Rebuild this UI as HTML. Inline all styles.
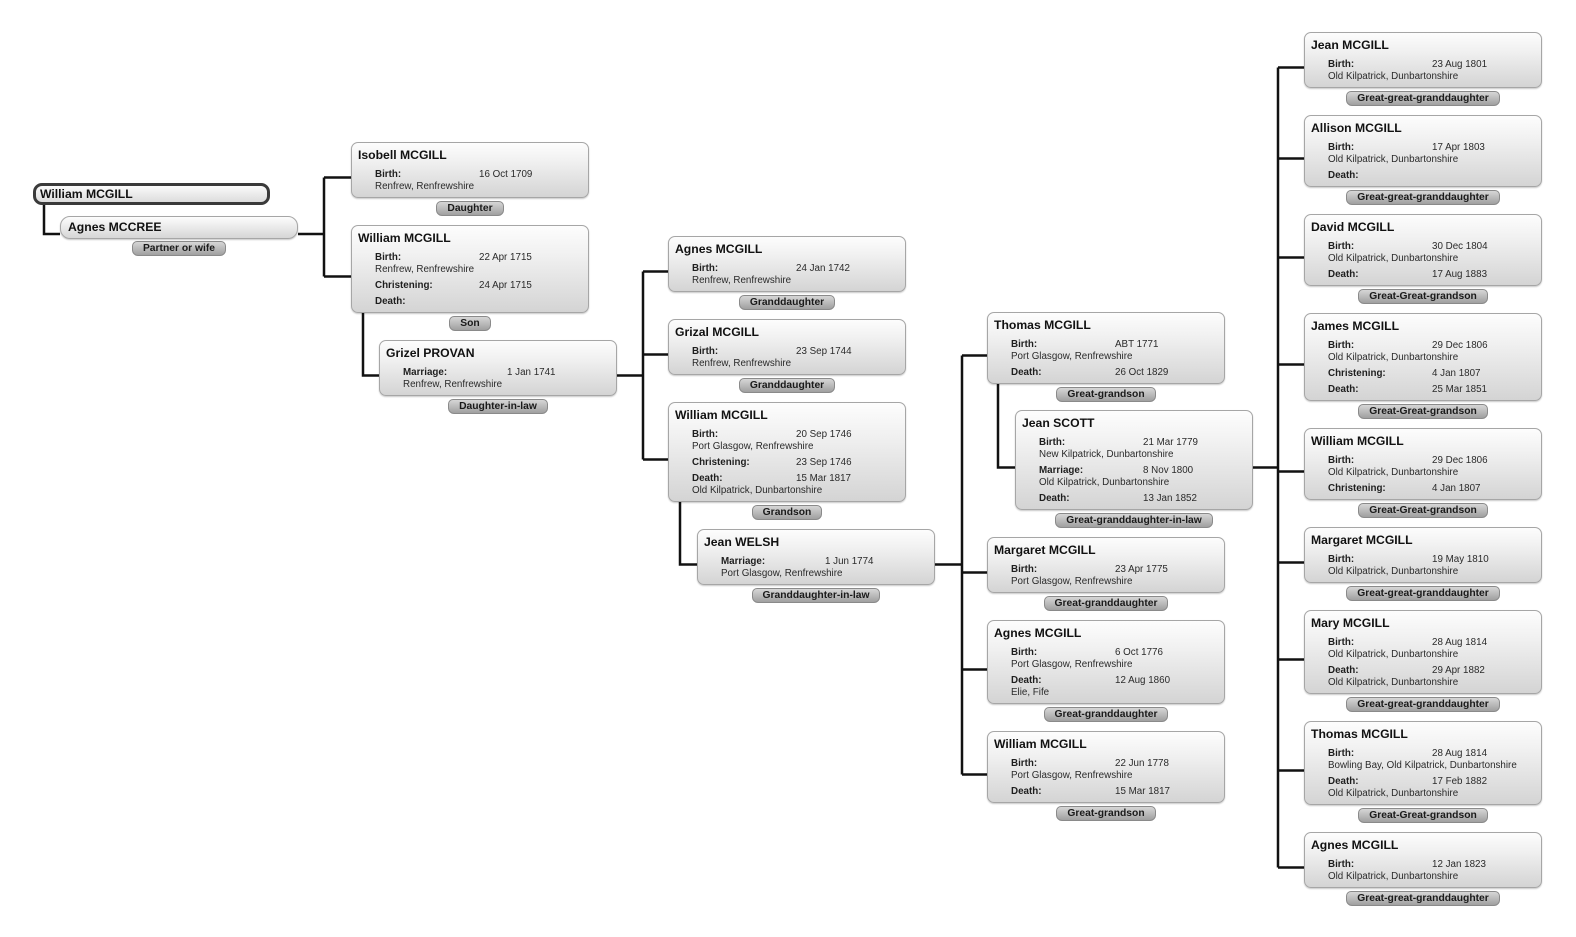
<!DOCTYPE html>
<html>
<head>
<meta charset="utf-8">
<style>
html,body{margin:0;padding:0;background:#fff;}
body{width:1576px;height:937px;position:relative;overflow:hidden;font-family:"Liberation Sans",Arial,sans-serif;}
svg.c{position:absolute;left:0;top:0;z-index:0}
.b{position:absolute;width:238px;box-sizing:border-box;border:1px solid #a6a6a6;border-radius:7px;background:linear-gradient(#fdfdfd 0%,#f0f0f0 35%,#d4d4d4 100%);padding-top:4px;z-index:3;box-shadow:0 1px 1.5px rgba(0,0,0,.22);}
.n{font-weight:bold;font-size:12.2px;line-height:16px;height:16px;padding-left:6px;color:#111;white-space:nowrap;}
.r{position:relative;font-size:9.8px;line-height:12px;height:12px;padding-left:23px;margin-top:4px;color:#1e1e1e;font-weight:bold;white-space:nowrap;}
.n + .r{margin-top:6px;}
.r span{position:absolute;left:127px;top:0;font-weight:normal;color:#2a2a2a;}
.p{font-size:9.8px;line-height:12px;height:12px;padding-left:23px;color:#2a2a2a;white-space:nowrap;}
.t{position:absolute;width:238px;text-align:center;z-index:2;}
.t span{display:inline-block;box-sizing:border-box;height:15px;padding:0 10px;font-weight:bold;font-size:10.3px;line-height:14px;color:#1a1a1a;background:linear-gradient(#d6d6d6,#a0a0a0);border:1px solid #8a8a8a;border-radius:5px 5px 6px 6px;white-space:nowrap;}
.root{position:absolute;left:33px;top:183px;width:237px;height:22px;box-sizing:border-box;border:3px solid #3a3a3a;border-radius:9px;background:linear-gradient(#fbfbfb,#dcdcdc);z-index:3;font-weight:bold;font-size:12.2px;line-height:16px;padding-left:4px;color:#111;}
.sp0{position:absolute;left:60px;top:216px;width:238px;height:23px;box-sizing:border-box;border:1px solid #a6a6a6;border-radius:10px;background:linear-gradient(#fdfdfd,#d6d6d6);z-index:3;font-weight:bold;font-size:12.2px;line-height:21px;padding-left:7px;color:#111;box-shadow:0 1px 1.5px rgba(0,0,0,.22);}
</style>
</head>
<body>
<svg class="c" width="1576" height="937" viewBox="0 0 1576 937">
<g fill="none" stroke="#111" stroke-width="2.5" stroke-linejoin="miter">
<path d="M44 204 V234 H60"/>
<path d="M298 234 H324"/>
<path d="M324 177.5 V276.5"/>
<path d="M324 177.5 H351 M324 276.5 H351"/>
<path d="M363 313 V375.5 H379"/>
<path d="M617 375.5 H643"/>
<path d="M643 271.5 V459.5"/>
<path d="M643 271.5 H668 M643 354.5 H668 M643 459.5 H668"/>
<path d="M680 502 V564.5 H697"/>
<path d="M935 564.5 H962"/>
<path d="M962 355.5 V774.5"/>
<path d="M962 355.5 H987 M962 572.5 H987 M962 669.5 H987 M962 774.5 H987"/>
<path d="M998 384 V467.5 H1015"/>
<path d="M1253 467.5 H1278"/>
<path d="M1278 67.5 V867.5"/>
<path d="M1278 67.5 H1304 M1278 158.5 H1304 M1278 257.5 H1304 M1278 364.5 H1304 M1278 471.5 H1304 M1278 562.5 H1304 M1278 659.5 H1304 M1278 770.5 H1304 M1278 867.5 H1304"/>
</g>
</svg>

<!-- Root -->
<div class="root">William MCGILL</div>
<div class="sp0">Agnes MCCREE</div>
<div class="t" style="left:60px;top:238px"><span>Partner or wife</span></div>

<!-- Column 1 -->
<div class="b" style="left:351px;top:142px;height:56px"><div class="n">Isobell MCGILL</div><div class="r">Birth:<span>16 Oct 1709</span></div><div class="p">Renfrew, Renfrewshire</div></div>
<div class="t" style="left:351px;top:198px"><span>Daughter</span></div>

<div class="b" style="left:351px;top:225px;height:88px"><div class="n">William MCGILL</div><div class="r">Birth:<span>22 Apr 1715</span></div><div class="p">Renfrew, Renfrewshire</div><div class="r">Christening:<span>24 Apr 1715</span></div><div class="r">Death:</div></div>
<div class="t" style="left:351px;top:313px"><span>Son</span></div>

<div class="b" style="left:379px;top:340px;height:56px"><div class="n">Grizel PROVAN</div><div class="r">Marriage:<span>1 Jan 1741</span></div><div class="p">Renfrew, Renfrewshire</div></div>
<div class="t" style="left:379px;top:396px"><span>Daughter-in-law</span></div>

<!-- Column 2 -->
<div class="b" style="left:668px;top:236px;height:56px"><div class="n">Agnes MCGILL</div><div class="r">Birth:<span>24 Jan 1742</span></div><div class="p">Renfrew, Renfrewshire</div></div>
<div class="t" style="left:668px;top:292px"><span>Granddaughter</span></div>

<div class="b" style="left:668px;top:319px;height:56px"><div class="n">Grizal MCGILL</div><div class="r">Birth:<span>23 Sep 1744</span></div><div class="p">Renfrew, Renfrewshire</div></div>
<div class="t" style="left:668px;top:375px"><span>Granddaughter</span></div>

<div class="b" style="left:668px;top:402px;height:100px"><div class="n">William MCGILL</div><div class="r">Birth:<span>20 Sep 1746</span></div><div class="p">Port Glasgow, Renfrewshire</div><div class="r">Christening:<span>23 Sep 1746</span></div><div class="r">Death:<span>15 Mar 1817</span></div><div class="p">Old Kilpatrick, Dunbartonshire</div></div>
<div class="t" style="left:668px;top:502px"><span>Grandson</span></div>

<div class="b" style="left:697px;top:529px;height:56px"><div class="n">Jean WELSH</div><div class="r">Marriage:<span>1 Jun 1774</span></div><div class="p">Port Glasgow, Renfrewshire</div></div>
<div class="t" style="left:697px;top:585px"><span>Granddaughter-in-law</span></div>

<!-- Column 3 -->
<div class="b" style="left:987px;top:312px;height:72px"><div class="n">Thomas MCGILL</div><div class="r">Birth:<span>ABT 1771</span></div><div class="p">Port Glasgow, Renfrewshire</div><div class="r">Death:<span>26 Oct 1829</span></div></div>
<div class="t" style="left:987px;top:384px"><span>Great-grandson</span></div>

<div class="b" style="left:1015px;top:410px;height:100px"><div class="n">Jean SCOTT</div><div class="r">Birth:<span>21 Mar 1779</span></div><div class="p">New Kilpatrick, Dunbartonshire</div><div class="r">Marriage:<span>8 Nov 1800</span></div><div class="p">Old Kilpatrick, Dunbartonshire</div><div class="r">Death:<span>13 Jan 1852</span></div></div>
<div class="t" style="left:1015px;top:510px"><span>Great-granddaughter-in-law</span></div>

<div class="b" style="left:987px;top:537px;height:56px"><div class="n">Margaret MCGILL</div><div class="r">Birth:<span>23 Apr 1775</span></div><div class="p">Port Glasgow, Renfrewshire</div></div>
<div class="t" style="left:987px;top:593px"><span>Great-granddaughter</span></div>

<div class="b" style="left:987px;top:620px;height:84px"><div class="n">Agnes MCGILL</div><div class="r">Birth:<span>6 Oct 1776</span></div><div class="p">Port Glasgow, Renfrewshire</div><div class="r">Death:<span>12 Aug 1860</span></div><div class="p">Elie, Fife</div></div>
<div class="t" style="left:987px;top:704px"><span>Great-granddaughter</span></div>

<div class="b" style="left:987px;top:731px;height:72px"><div class="n">William MCGILL</div><div class="r">Birth:<span>22 Jun 1778</span></div><div class="p">Port Glasgow, Renfrewshire</div><div class="r">Death:<span>15 Mar 1817</span></div></div>
<div class="t" style="left:987px;top:803px"><span>Great-grandson</span></div>

<!-- Column 4 -->
<div class="b" style="left:1304px;top:32px;height:56px"><div class="n">Jean MCGILL</div><div class="r">Birth:<span>23 Aug 1801</span></div><div class="p">Old Kilpatrick, Dunbartonshire</div></div>
<div class="t" style="left:1304px;top:88px"><span>Great-great-granddaughter</span></div>

<div class="b" style="left:1304px;top:115px;height:72px"><div class="n">Allison MCGILL</div><div class="r">Birth:<span>17 Apr 1803</span></div><div class="p">Old Kilpatrick, Dunbartonshire</div><div class="r">Death:</div></div>
<div class="t" style="left:1304px;top:187px"><span>Great-great-granddaughter</span></div>

<div class="b" style="left:1304px;top:214px;height:72px"><div class="n">David MCGILL</div><div class="r">Birth:<span>30 Dec 1804</span></div><div class="p">Old Kilpatrick, Dunbartonshire</div><div class="r">Death:<span>17 Aug 1883</span></div></div>
<div class="t" style="left:1304px;top:286px"><span>Great-Great-grandson</span></div>

<div class="b" style="left:1304px;top:313px;height:88px"><div class="n">James MCGILL</div><div class="r">Birth:<span>29 Dec 1806</span></div><div class="p">Old Kilpatrick, Dunbartonshire</div><div class="r">Christening:<span>4 Jan 1807</span></div><div class="r">Death:<span>25 Mar 1851</span></div></div>
<div class="t" style="left:1304px;top:401px"><span>Great-Great-grandson</span></div>

<div class="b" style="left:1304px;top:428px;height:72px"><div class="n">William MCGILL</div><div class="r">Birth:<span>29 Dec 1806</span></div><div class="p">Old Kilpatrick, Dunbartonshire</div><div class="r">Christening:<span>4 Jan 1807</span></div></div>
<div class="t" style="left:1304px;top:500px"><span>Great-Great-grandson</span></div>

<div class="b" style="left:1304px;top:527px;height:56px"><div class="n">Margaret MCGILL</div><div class="r">Birth:<span>19 May 1810</span></div><div class="p">Old Kilpatrick, Dunbartonshire</div></div>
<div class="t" style="left:1304px;top:583px"><span>Great-great-granddaughter</span></div>

<div class="b" style="left:1304px;top:610px;height:84px"><div class="n">Mary MCGILL</div><div class="r">Birth:<span>28 Aug 1814</span></div><div class="p">Old Kilpatrick, Dunbartonshire</div><div class="r">Death:<span>29 Apr 1882</span></div><div class="p">Old Kilpatrick, Dunbartonshire</div></div>
<div class="t" style="left:1304px;top:694px"><span>Great-great-granddaughter</span></div>

<div class="b" style="left:1304px;top:721px;height:84px"><div class="n">Thomas MCGILL</div><div class="r">Birth:<span>28 Aug 1814</span></div><div class="p">Bowling Bay, Old Kilpatrick, Dunbartonshire</div><div class="r">Death:<span>17 Feb 1882</span></div><div class="p">Old Kilpatrick, Dunbartonshire</div></div>
<div class="t" style="left:1304px;top:805px"><span>Great-Great-grandson</span></div>

<div class="b" style="left:1304px;top:832px;height:56px"><div class="n">Agnes MCGILL</div><div class="r">Birth:<span>12 Jan 1823</span></div><div class="p">Old Kilpatrick, Dunbartonshire</div></div>
<div class="t" style="left:1304px;top:888px"><span>Great-great-granddaughter</span></div>

</body>
</html>
